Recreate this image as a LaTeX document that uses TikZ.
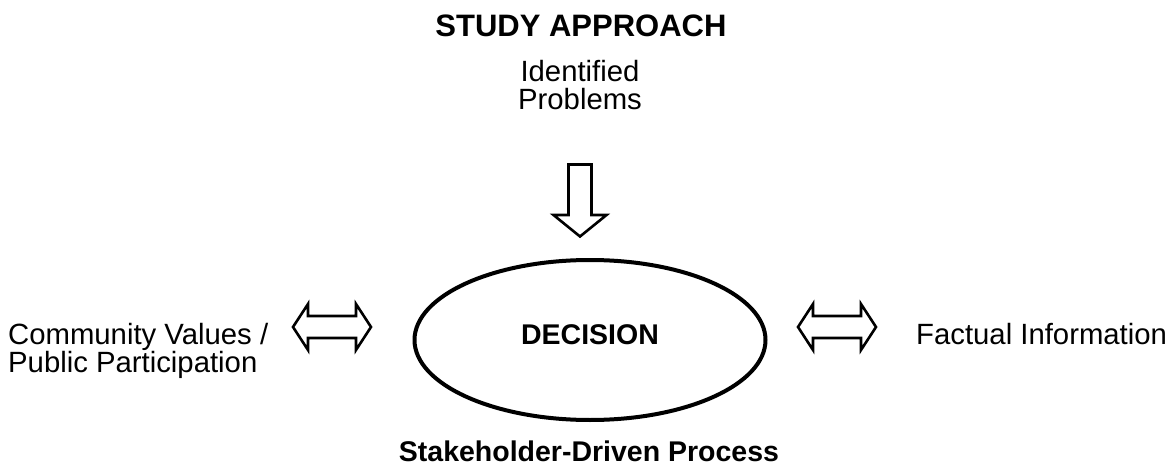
\documentclass[tikz,border=0pt]{standalone}
\usepackage{fontspec}
\setmainfont{Liberation Sans}
\usetikzlibrary{shapes.geometric}

\begin{document}
\begin{tikzpicture}[x=1pt, y=-1pt,
    label/.style={font=\fontsize{29.3}{28}\selectfont, inner sep=0pt},
    heading/.style={font=\fontsize{28.5}{28}\selectfont\bfseries, inner sep=0pt},
    blockarrow/.style={draw, line width=2.6pt, line join=miter}]
    \useasboundingbox (0,0) rectangle (1170,473);

    % Top: study approach and the problems that feed the decision
    \node[heading, font=\fontsize{31}{31}\selectfont\bfseries, anchor=base] (study) at (581,37) {STUDY APPROACH};
    \node[label, align=center, anchor=base] (problems) at (580,110) {Identified\\Problems};

    % The decision itself
    \node[draw, ellipse, line width=4pt, minimum width=351pt, minimum height=160pt, heading, text depth=10pt] (decision) at (590,340) {DECISION};

    % Side inputs
    \node[label, align=left, anchor=base west] (values) at (8,372) {Community Values /\\Public Participation};
    \node[label, anchor=base west] (facts) at (916,344) {Factual Information};

    % Bottom caption
    \node[heading, anchor=base] (process) at (589,461) {Stakeholder-Driven Process};

    % Block arrow from the problems down into the decision
    \coordinate (down) at (580,164.5);
    \draw[blockarrow, shift={(down)}] (-11.5,0) -- (11.5,0) -- (11.5,50.5) -- (26.5,50.5)
        -- (0,72) -- (-26.5,50.5) -- (-11.5,50.5) -- cycle;

    % Two-way block arrows on either side of the decision
    \foreach \name/\cx in {left/332, right/837} {
        \coordinate (\name) at (\cx,327);
        \draw[blockarrow, shift={(\name)}] (-39,0) -- (-24,-23) -- (-24,-11) -- (24,-11) -- (24,-23)
            -- (39,0) -- (24,23) -- (24,11) -- (-24,11) -- (-24,23) -- cycle;
    }
\end{tikzpicture}
\end{document}
